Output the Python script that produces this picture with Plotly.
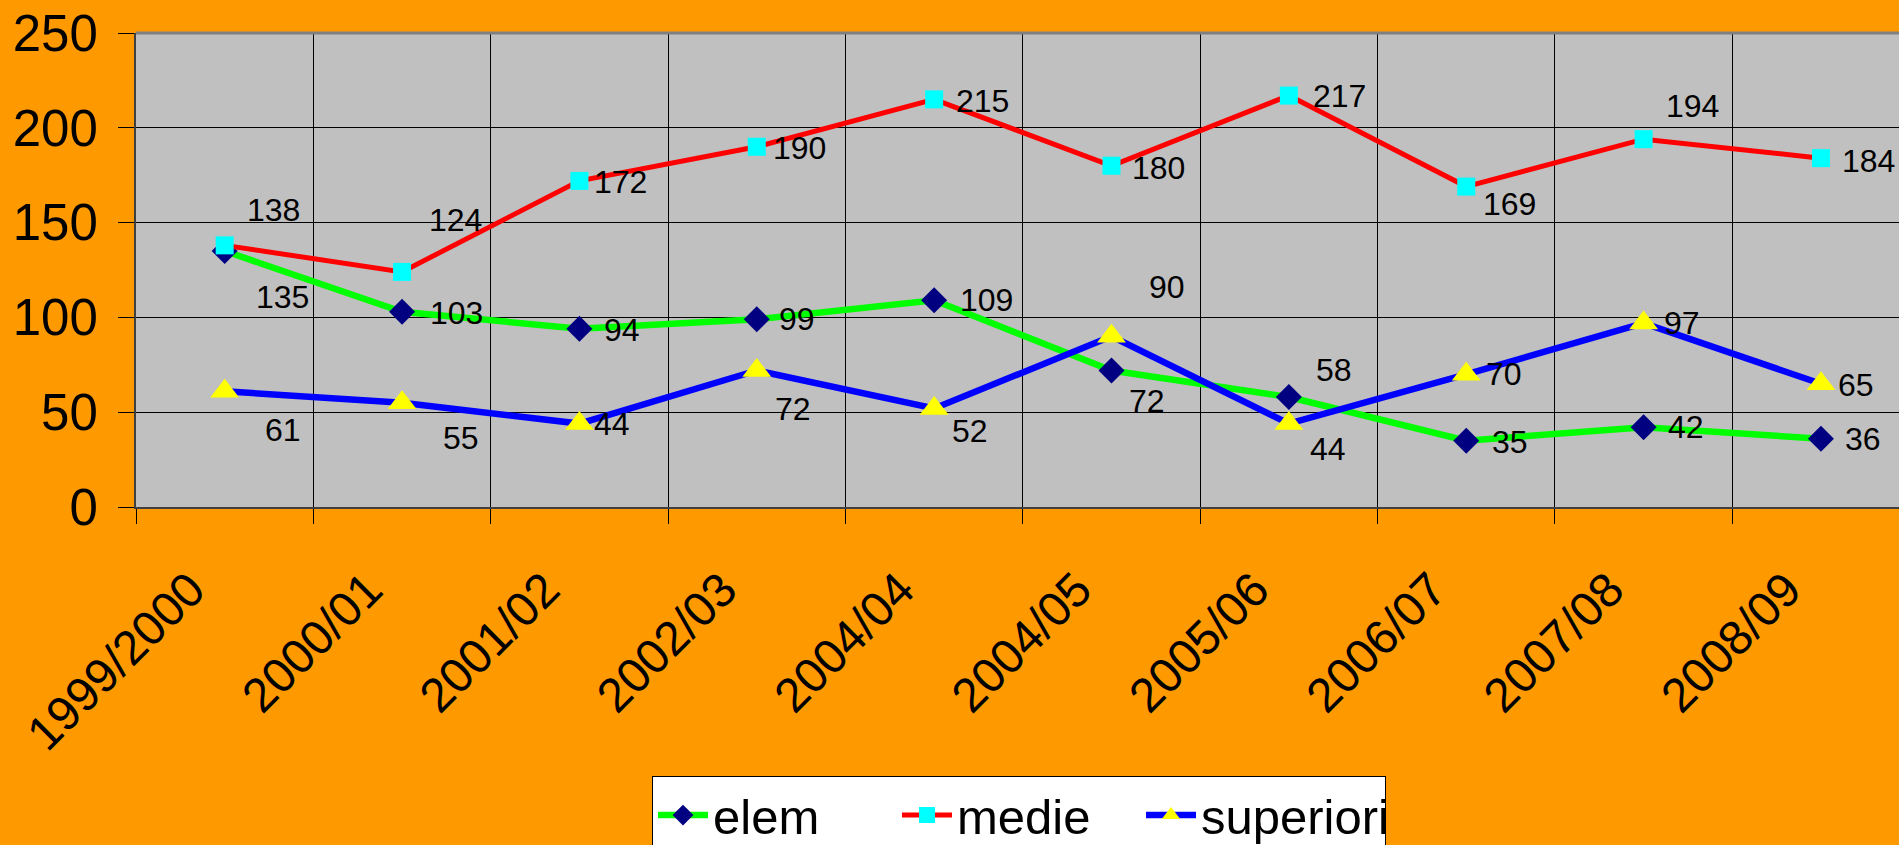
import plotly.graph_objects as go

categories = ["1999/2000", "2000/01", "2001/02", "2002/03", "2004/04",
              "2004/05", "2005/06", "2006/07", "2007/08", "2008/09"]
elem = [135, 103, 94, 99, 109, 72, 58, 35, 42, 36]
medie = [138, 124, 172, 190, 215, 180, 217, 169, 194, 184]
superiori = [61, 55, 44, 72, 52, 90, 44, 70, 97, 65]

# label offsets (screen px, dx right, dy down)
S = 1.211
elem_off = [(48, 38), (45, 1), (35, 1), (33, 0), (43, 0), (29, 25), (37, -22), (36, 1), (35, 0), (35, 0)]
medie_off = [(40, -29), (44, -43), (34, 1), (35, 1), (40, 1), (39, 2), (42, 0), (36, 14), (40, -27), (39, 2)]
sup_off = [(48, 32), (49, 29), (27, 0), (30, 32), (30, 19), (46, -41), (32, 21), (31, 0), (32, 0), (29, 1)]

FONT = "Liberation Sans, Arial, sans-serif"

fig = go.Figure()
fig.add_trace(go.Scatter(
    x=categories, y=elem, name="elem", mode="lines+markers",
    line=dict(color="#00FF00", width=6.5),
    marker=dict(symbol="diamond", size=20, color="#000080"),
))
fig.add_trace(go.Scatter(
    x=categories, y=medie, name="medie", mode="lines+markers",
    line=dict(color="#FF0000", width=5),
    marker=dict(symbol="square", size=18, color="#00FFFF"),
))
fig.add_trace(go.Scatter(
    x=categories, y=superiori, name="superiori", mode="lines+markers",
    line=dict(color="#0000FF", width=6.5),
    marker=dict(symbol="triangle-up", size=25, color="#FFFF00"),
))

annotations = []
for vals, offs in ((elem, elem_off), (medie, medie_off), (superiori, sup_off)):
    for c, v, (dx, dy) in zip(categories, vals, offs):
        annotations.append(dict(
            x=c, y=v, xref="x", yref="y", text=str(v), showarrow=False,
            xanchor="center", yanchor="middle",
            xshift=dx * S, yshift=-dy * S,
            font=dict(family=FONT, size=32, color="black"),
        ))

fig.update_layout(
    width=1899, height=845,
    margin=dict(l=136, r=0, t=33, b=338, autoexpand=False),
    paper_bgcolor="#FF9900",
    plot_bgcolor="#C0C0C0",
    font=dict(family=FONT, color="black"),
    showlegend=True,
    legend=dict(
        orientation="h", x=652 / 1899, xref="container", xanchor="left",
        y=-0.567, yanchor="top",
        bgcolor="white", bordercolor="black", borderwidth=1,
        font=dict(family=FONT, size=49, color="black"),
        itemsizing="trace", tracegroupgap=0,
        itemwidth=50, entrywidth=179, entrywidthmode="pixels",
    ),
    annotations=annotations,
    xaxis=dict(
        type="category", range=[-0.5, 9.44],
        tickson="boundaries", ticks="outside", ticklen=15, tickcolor="black",
        showgrid=True, gridcolor="black", gridwidth=1,
        showline=True, linecolor="#404040", linewidth=2,
        tickangle=-45, tickfont=dict(family=FONT, size=48, color="black"),
        ticklabelshift=-34, ticklabelstandoff=33,
        zeroline=False,
    ),
    yaxis=dict(
        range=[0, 250], dtick=50, ticks="outside", ticklen=16, tickcolor="black",
        showgrid=True, gridcolor="black", gridwidth=1,
        showline=True, linecolor="#404040", linewidth=2,
        tickfont=dict(family=FONT, size=51, color="black"),
        ticklabelstandoff=10, zeroline=False,
    ),
    shapes=[dict(type="line", xref="paper", yref="paper", x0=0, x1=1, y0=1, y1=1,
                 line=dict(color="#808080", width=3))],
)

fig.write_html(
    "out.html",
    config={"displayModeBar": False},
    post_script="document.body.style.margin='0';document.body.style.overflow='hidden';",
)
